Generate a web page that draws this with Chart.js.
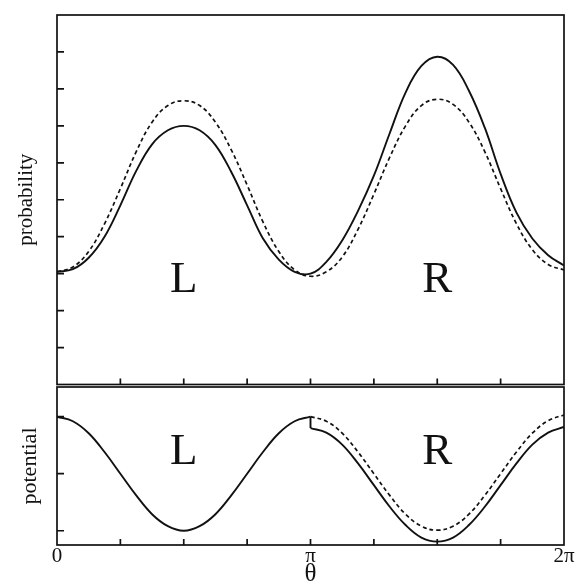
<!DOCTYPE html>
<html>
<head>
<meta charset="utf-8">
<script src="https://cdn.jsdelivr.net/npm/chart.js@4.4.1/dist/chart.umd.min.js"></script>
<style>
    body { margin: 0; background: #ffffff; }
    #wrap { position: relative; width: 575px; height: 583px; }
    canvas { position: absolute; left: 0; }
</style>
</head>
<body>
<div id="wrap">
    <canvas id="prob-chart" width="575" height="388" style="top:0px"></canvas>
    <canvas id="pot-chart" width="575" height="198" style="top:385px"></canvas>
</div>
<script>
// theta in units of pi
const theta = [0, 0.0625, 0.125, 0.1875, 0.25, 0.3125, 0.375, 0.4375, 0.5,
    0.5625, 0.625, 0.6875, 0.75, 0.8125, 0.875, 0.9375, 1,
    1.0625, 1.125, 1.1875, 1.25, 1.3125, 1.375, 1.4375, 1.5,
    1.5625, 1.625, 1.6875, 1.75, 1.8125, 1.875, 1.9375, 2];

// upper panel: probability
const probSolid = [3.05, 3.12, 3.43, 4.0, 4.85, 5.78, 6.5, 6.88, 7.0,
    6.88, 6.48, 5.75, 4.85, 3.95, 3.38, 3.05, 3.0,
    3.32, 3.9, 4.7, 5.65, 6.8, 7.9, 8.62, 8.87,
    8.65, 7.95, 6.95, 5.7, 4.65, 3.95, 3.5, 3.22];
const probDashed = [3.05, 3.18, 3.6, 4.35, 5.3, 6.3, 7.1, 7.55, 7.68,
    7.55, 7.1, 6.35, 5.4, 4.4, 3.6, 3.1, 2.93,
    3.05, 3.45, 4.2, 5.15, 6.15, 7.0, 7.55, 7.72,
    7.58, 7.1, 6.3, 5.3, 4.35, 3.65, 3.25, 3.1];

// lower panel: potential (left well 0..pi, right well pi..2pi)
const potSolidL = [2.0, 1.92, 1.71, 1.38, 1.0, 0.62, 0.29, 0.08, 0.0,
    0.08, 0.29, 0.62, 1.0, 1.38, 1.71, 1.92, 2.0];
const potJumpTheta = [1, 1];
const potJump = [2.0, 1.8];
const potSolidR = [1.8, 1.72, 1.51, 1.18, 0.8, 0.42, 0.1, -0.12, -0.19,
    -0.12, 0.1, 0.42, 0.8, 1.18, 1.51, 1.72, 1.82];
const potDashedR = [2.0, 1.92, 1.71, 1.38, 1.0, 0.62, 0.29, 0.08, 0.01,
    0.08, 0.29, 0.62, 1.0, 1.38, 1.71, 1.93, 2.03];

// ticks
const thetaTicks = [0.25, 0.5, 0.75, 1, 1.25, 1.5, 1.75];
const thetaLabelValues = [0, 1, 2];
const thetaLabels = ["0", "\u03c0", "2\u03c0"];
const probTicks = [1, 2, 3, 4, 5, 6, 7, 8, 9];
const potTicks = [0, 1, 2];

const serif = '"Liberation Serif", "DejaVu Serif", serif';

function points(xs, ys) {
    return ys.map((y, i) => ({ x: xs[i], y: y }));
}

const framePlugin = {
    id: "frame",
    afterDraw(chart, args, opts) {
        const ctx = chart.ctx;
        const a = chart.chartArea;
        const xs = chart.scales.x;
        const ys = chart.scales.y;
        ctx.save();
        ctx.strokeStyle = "#111111";
        ctx.lineWidth = 1.7;
        ctx.strokeRect(a.left, a.top, a.right - a.left, a.bottom - a.top);

        // inward ticks
        ctx.beginPath();
        opts.yTicks.forEach(v => {
            const py = ys.getPixelForValue(v);
            ctx.moveTo(a.left, py);
            ctx.lineTo(a.left + 7, py);
        });
        opts.xTicks.forEach(v => {
            const px = xs.getPixelForValue(v);
            ctx.moveTo(px, a.bottom);
            ctx.lineTo(px, a.bottom - 6);
        });
        ctx.stroke();

        ctx.fillStyle = "#111111";

        // y title
        ctx.save();
        ctx.font = opts.yTitleSize + "px " + serif;
        ctx.textAlign = "center";
        ctx.textBaseline = "middle";
        ctx.translate(opts.yTitleX, (a.top + a.bottom) / 2);
        ctx.rotate(-Math.PI / 2);
        ctx.fillText(opts.yTitle, 0, 0);
        ctx.restore();

        // x labels
        if (opts.xLabels) {
            ctx.font = "21px " + serif;
            ctx.textAlign = "center";
            ctx.textBaseline = "alphabetic";
            opts.xLabelValues.forEach((v, i) => {
                ctx.fillText(opts.xLabels[i], xs.getPixelForValue(v), a.bottom + 17);
            });
            ctx.font = "25px " + serif;
            ctx.fillText(opts.xTitle, xs.getPixelForValue(1), a.bottom + 36);
        }

        // well letters
        ctx.font = "45px " + serif;
        ctx.textAlign = "center";
        ctx.textBaseline = "alphabetic";
        opts.marks.forEach(m => {
            ctx.fillText(m.text, xs.getPixelForValue(m.x), ys.getPixelForValue(m.y));
        });
        ctx.restore();
    }
};

function baseOptions(padding, ymin, ymax, frame) {
    return {
        responsive: false,
        animation: false,
        devicePixelRatio: 1,
        layout: { padding: padding },
        elements: { point: { radius: 0 } },
        plugins: {
            legend: { display: false },
            tooltip: { enabled: false },
            frame: frame
        },
        scales: {
            x: { type: "linear", min: 0, max: 2, display: false },
            y: { type: "linear", min: ymin, max: ymax, display: false }
        }
    };
}

const solidStyle = {
    borderColor: "#111111",
    borderWidth: 1.9,
    fill: false,
    tension: 0.4
};
const dashedStyle = {
    borderColor: "#111111",
    borderWidth: 1.7,
    borderDash: [4, 3],
    fill: false,
    tension: 0.4
};

new Chart(document.getElementById("prob-chart").getContext("2d"), {
    type: "line",
    data: {
        datasets: [
            Object.assign({ data: points(theta, probSolid) }, solidStyle),
            Object.assign({ data: points(theta, probDashed) }, dashedStyle)
        ]
    },
    options: baseOptions({ left: 57, right: 11, top: 15, bottom: 3.5 }, 0, 10, {
        yTicks: probTicks,
        xTicks: thetaTicks,
        yTitle: "probability",
        yTitleSize: 21,
        yTitleX: 26,
        marks: [{ text: "L", x: 0.5, y: 2.5 }, { text: "R", x: 1.5, y: 2.5 }]
    }),
    plugins: [framePlugin]
});

const thetaL = theta.slice(0, 17);
const thetaR = theta.slice(16);

new Chart(document.getElementById("pot-chart").getContext("2d"), {
    type: "line",
    data: {
        datasets: [
            Object.assign({ data: points(thetaL, potSolidL) }, solidStyle),
            Object.assign({ data: points(potJumpTheta, potJump) }, solidStyle, { tension: 0 }),
            Object.assign({ data: points(thetaR, potSolidR) }, solidStyle),
            Object.assign({ data: points(thetaR, potDashedR) }, dashedStyle)
        ]
    },
    options: baseOptions({ left: 57, right: 11, top: 2, bottom: 38 }, -0.25, 2.52, {
        yTicks: potTicks,
        xTicks: thetaTicks,
        yTitle: "potential",
        yTitleSize: 22,
        yTitleX: 30,
        xLabels: thetaLabels,
        xLabelValues: thetaLabelValues,
        xTitle: "\u03b8",
        marks: [{ text: "L", x: 0.5, y: 1.17 }, { text: "R", x: 1.5, y: 1.17 }]
    }),
    plugins: [framePlugin]
});
</script>
</body>
</html>
